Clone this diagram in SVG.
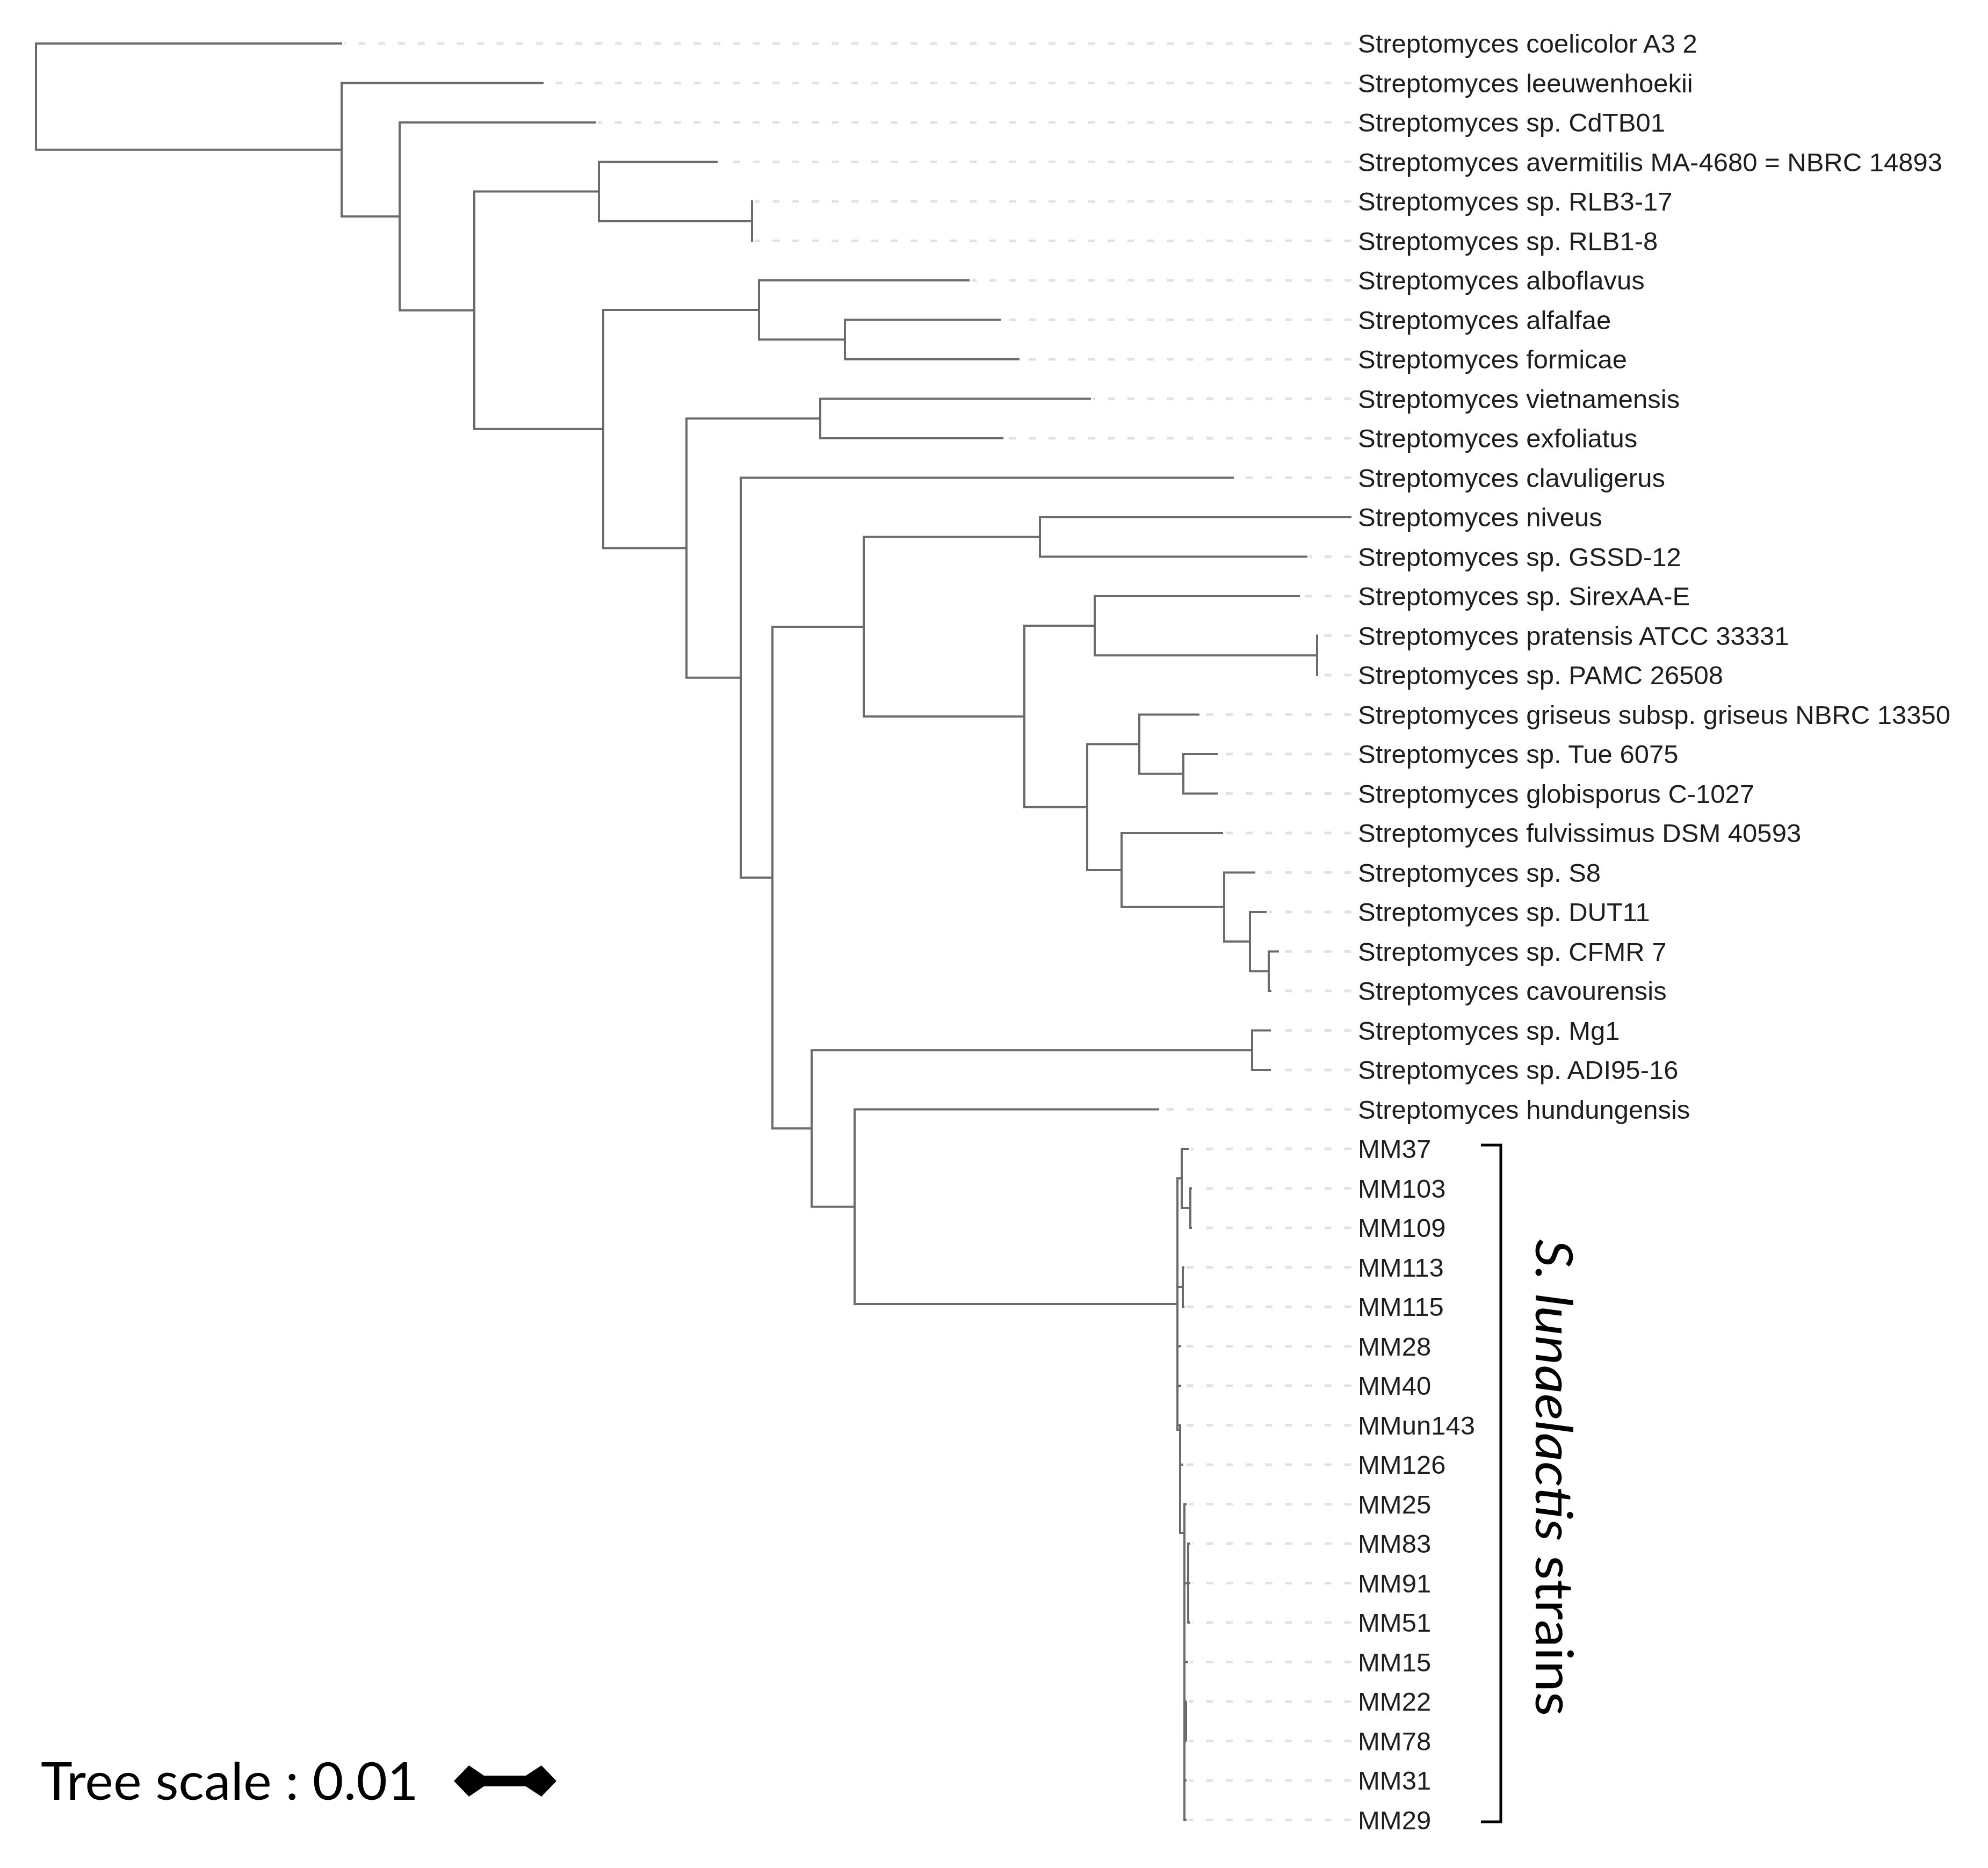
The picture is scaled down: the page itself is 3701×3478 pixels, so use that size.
<svg xmlns="http://www.w3.org/2000/svg" width="3701" height="3478" viewBox="0 0 3701 3478">
<style>
.br{fill:none;stroke:#6b6b6b;stroke-width:4;stroke-linejoin:miter}
.dot{fill:url(#dots)}
.lbl{font-family:"Liberation Sans",Arial,sans-serif;font-size:49px;fill:#1e1e1e}
.big{font-family:Lato,"Open Sans",sans-serif;font-size:96px;fill:#000}
</style>
<defs>
<pattern id="dots" patternUnits="userSpaceOnUse" x="1034.5" y="0" width="36.7" height="10">
<rect x="0" y="0" width="13" height="10" fill="#e2e2e2"/>
</pattern>
</defs>
<rect width="3701" height="3478" fill="#fff"/>
<g id="branches">
<path class="br" d="M637,81 H67 V278.7 H636"/>
<path class="br" d="M1012,154.5 H636 V402.9 H744"/>
<path class="br" d="M1109,228 H744 V577.7 H883"/>
<path class="br" d="M1115,356.6 H883 V798.8 H1123"/>
<path class="br" d="M1336,301.5 H1115 V411.75 H1400"/>
<path class="br" d="M1402,375 H1400 V448.5 H1402"/>
<path class="br" d="M1413,577.1 H1123 V1020.5 H1278"/>
<path class="br" d="M1805,522 H1413 V632.25 H1573"/>
<path class="br" d="M1864,595.5 H1573 V669 H1898"/>
<path class="br" d="M1527,779.25 H1278 V1261.7 H1379"/>
<path class="br" d="M2031,742.5 H1527 V816 H1868"/>
<path class="br" d="M2297,889.5 H1379 V1634 H1438"/>
<path class="br" d="M1608,1166.9 H1438 V2101 H1511"/>
<path class="br" d="M1936,999.75 H1608 V1334 H1907"/>
<path class="br" d="M2516,963 H1936 V1036.5 H2434"/>
<path class="br" d="M2038,1165.1 H1907 V1502.8 H2024"/>
<path class="br" d="M2420,1110 H2038 V1220.25 H2452"/>
<path class="br" d="M2454,1183.5 H2452 V1257 H2454"/>
<path class="br" d="M2121,1385.6 H2024 V1619.9 H2088"/>
<path class="br" d="M2233,1330.5 H2121 V1440.75 H2203"/>
<path class="br" d="M2267,1404 H2203 V1477.5 H2267"/>
<path class="br" d="M2277,1551 H2088 V1688.8 H2279"/>
<path class="br" d="M2337,1624.5 H2279 V1753.1 H2327"/>
<path class="br" d="M2358,1698 H2327 V1808.25 H2362"/>
<path class="br" d="M2381,1771.5 H2362 V1845 H2367"/>
<path class="br" d="M2331,1955.25 H1511 V2246.75 H1591"/>
<path class="br" d="M2366,1918.5 H2331 V1992 H2366"/>
<path class="br" d="M2158,2065.5 H1591 V2428 H2192"/>
<path class="br" d="M2200,2194 H2192 V2662 H2197"/>
<path class="br" d="M2213,2139 H2200 V2249 H2216"/>
<path class="br" d="M2219,2212.5 H2216 V2286 H2219"/>
<path class="br" d="M2192,2396 H2202"/>
<path class="br" d="M2205,2359.5 H2202 V2433 H2205"/>
<path class="br" d="M2192,2506.5 H2199 M2192,2580 H2199 M2192,2653.5 H2199"/>
<path class="br" d="M2197,2655 V2854 H2205 M2197,2727 H2203"/>
<path class="br" d="M2209,2800.5 H2205 V3388.5 H2209"/>
<path class="br" d="M2205,2948 H2212 M2216,2874 H2212 V3021 H2216 M2212,2947.5 H2216"/>
<path class="br" d="M2205,3094.5 H2212 M2205,3168 H2209 M2205,3241.5 H2209 M2205,3315 H2209 M2208,3168 V3241.5"/>
</g>
<g id="leaf-00"><rect class="dot" x="641" y="78.5" width="1876" height="5"/><text class="lbl" x="2528" y="98">Streptomyces coelicolor A3 2</text></g>
<g id="leaf-01"><rect class="dot" x="1016" y="152" width="1501" height="5"/><text class="lbl" x="2528" y="171.5">Streptomyces leeuwenhoekii</text></g>
<g id="leaf-02"><rect class="dot" x="1113" y="225.5" width="1404" height="5"/><text class="lbl" x="2528" y="245">Streptomyces sp. CdTB01</text></g>
<g id="leaf-03"><rect class="dot" x="1340" y="299" width="1177" height="5"/><text class="lbl" x="2528" y="318.5">Streptomyces avermitilis MA-4680 = NBRC 14893</text></g>
<g id="leaf-04"><rect class="dot" x="1406" y="372.5" width="1111" height="5"/><text class="lbl" x="2528" y="392">Streptomyces sp. RLB3-17</text></g>
<g id="leaf-05"><rect class="dot" x="1406" y="446" width="1111" height="5"/><text class="lbl" x="2528" y="465.5">Streptomyces sp. RLB1-8</text></g>
<g id="leaf-06"><rect class="dot" x="1809" y="519.5" width="708" height="5"/><text class="lbl" x="2528" y="539">Streptomyces alboflavus</text></g>
<g id="leaf-07"><rect class="dot" x="1868" y="593" width="649" height="5"/><text class="lbl" x="2528" y="612.5">Streptomyces alfalfae</text></g>
<g id="leaf-08"><rect class="dot" x="1902" y="666.5" width="615" height="5"/><text class="lbl" x="2528" y="686">Streptomyces formicae</text></g>
<g id="leaf-09"><rect class="dot" x="2035" y="740" width="482" height="5"/><text class="lbl" x="2528" y="759.5">Streptomyces vietnamensis</text></g>
<g id="leaf-10"><rect class="dot" x="1872" y="813.5" width="645" height="5"/><text class="lbl" x="2528" y="833">Streptomyces exfoliatus</text></g>
<g id="leaf-11"><rect class="dot" x="2301" y="887" width="216" height="5"/><text class="lbl" x="2528" y="906.5">Streptomyces clavuligerus</text></g>
<g id="leaf-12"><text class="lbl" x="2528" y="980">Streptomyces niveus</text></g>
<g id="leaf-13"><rect class="dot" x="2438" y="1034" width="79" height="5"/><text class="lbl" x="2528" y="1053.5">Streptomyces sp. GSSD-12</text></g>
<g id="leaf-14"><rect class="dot" x="2424" y="1107.5" width="93" height="5"/><text class="lbl" x="2528" y="1127">Streptomyces sp. SirexAA-E</text></g>
<g id="leaf-15"><rect class="dot" x="2458" y="1181" width="59" height="5"/><text class="lbl" x="2528" y="1200.5">Streptomyces pratensis ATCC 33331</text></g>
<g id="leaf-16"><rect class="dot" x="2458" y="1254.5" width="59" height="5"/><text class="lbl" x="2528" y="1274">Streptomyces sp. PAMC 26508</text></g>
<g id="leaf-17"><rect class="dot" x="2237" y="1328" width="280" height="5"/><text class="lbl" x="2528" y="1347.5">Streptomyces griseus subsp. griseus NBRC 13350</text></g>
<g id="leaf-18"><rect class="dot" x="2271" y="1401.5" width="246" height="5"/><text class="lbl" x="2528" y="1421">Streptomyces sp. Tue 6075</text></g>
<g id="leaf-19"><rect class="dot" x="2271" y="1475" width="246" height="5"/><text class="lbl" x="2528" y="1494.5">Streptomyces globisporus C-1027</text></g>
<g id="leaf-20"><rect class="dot" x="2281" y="1548.5" width="236" height="5"/><text class="lbl" x="2528" y="1568">Streptomyces fulvissimus DSM 40593</text></g>
<g id="leaf-21"><rect class="dot" x="2341" y="1622" width="176" height="5"/><text class="lbl" x="2528" y="1641.5">Streptomyces sp. S8</text></g>
<g id="leaf-22"><rect class="dot" x="2362" y="1695.5" width="155" height="5"/><text class="lbl" x="2528" y="1715">Streptomyces sp. DUT11</text></g>
<g id="leaf-23"><rect class="dot" x="2385" y="1769" width="132" height="5"/><text class="lbl" x="2528" y="1788.5">Streptomyces sp. CFMR 7</text></g>
<g id="leaf-24"><rect class="dot" x="2371" y="1842.5" width="146" height="5"/><text class="lbl" x="2528" y="1862">Streptomyces cavourensis</text></g>
<g id="leaf-25"><rect class="dot" x="2370" y="1916" width="147" height="5"/><text class="lbl" x="2528" y="1935.5">Streptomyces sp. Mg1</text></g>
<g id="leaf-26"><rect class="dot" x="2370" y="1989.5" width="147" height="5"/><text class="lbl" x="2528" y="2009">Streptomyces sp. ADI95-16</text></g>
<g id="leaf-27"><rect class="dot" x="2162" y="2063" width="355" height="5"/><text class="lbl" x="2528" y="2082.5">Streptomyces hundungensis</text></g>
<g id="leaf-28"><rect class="dot" x="2217" y="2136.5" width="300" height="5"/><text class="lbl" x="2528" y="2156">MM37</text></g>
<g id="leaf-29"><rect class="dot" x="2223" y="2210" width="294" height="5"/><text class="lbl" x="2528" y="2229.5">MM103</text></g>
<g id="leaf-30"><rect class="dot" x="2223" y="2283.5" width="294" height="5"/><text class="lbl" x="2528" y="2303">MM109</text></g>
<g id="leaf-31"><rect class="dot" x="2209" y="2357" width="308" height="5"/><text class="lbl" x="2528" y="2376.5">MM113</text></g>
<g id="leaf-32"><rect class="dot" x="2209" y="2430.5" width="308" height="5"/><text class="lbl" x="2528" y="2450">MM115</text></g>
<g id="leaf-33"><rect class="dot" x="2203" y="2504" width="314" height="5"/><text class="lbl" x="2528" y="2523.5">MM28</text></g>
<g id="leaf-34"><rect class="dot" x="2203" y="2577.5" width="314" height="5"/><text class="lbl" x="2528" y="2597">MM40</text></g>
<g id="leaf-35"><rect class="dot" x="2203" y="2651" width="314" height="5"/><text class="lbl" x="2528" y="2670.5">MMun143</text></g>
<g id="leaf-36"><rect class="dot" x="2207" y="2724.5" width="310" height="5"/><text class="lbl" x="2528" y="2744">MM126</text></g>
<g id="leaf-37"><rect class="dot" x="2213" y="2798" width="304" height="5"/><text class="lbl" x="2528" y="2817.5">MM25</text></g>
<g id="leaf-38"><rect class="dot" x="2220" y="2871.5" width="297" height="5"/><text class="lbl" x="2528" y="2891">MM83</text></g>
<g id="leaf-39"><rect class="dot" x="2220" y="2945" width="297" height="5"/><text class="lbl" x="2528" y="2964.5">MM91</text></g>
<g id="leaf-40"><rect class="dot" x="2220" y="3018.5" width="297" height="5"/><text class="lbl" x="2528" y="3038">MM51</text></g>
<g id="leaf-41"><rect class="dot" x="2216" y="3092" width="301" height="5"/><text class="lbl" x="2528" y="3111.5">MM15</text></g>
<g id="leaf-42"><rect class="dot" x="2213" y="3165.5" width="304" height="5"/><text class="lbl" x="2528" y="3185">MM22</text></g>
<g id="leaf-43"><rect class="dot" x="2213" y="3239" width="304" height="5"/><text class="lbl" x="2528" y="3258.5">MM78</text></g>
<g id="leaf-44"><rect class="dot" x="2213" y="3312.5" width="304" height="5"/><text class="lbl" x="2528" y="3332">MM31</text></g>
<g id="leaf-45"><rect class="dot" x="2213" y="3386" width="304" height="5"/><text class="lbl" x="2528" y="3405.5">MM29</text></g>
<g id="clade-bracket">
<path d="M2757,2132 H2794 V3392 H2757" fill="none" stroke="#000" stroke-width="5"/>
<text class="big" transform="translate(2859,2307) rotate(90)" x="0" y="0" textLength="888" lengthAdjust="spacingAndGlyphs"><tspan font-style="italic">S. lunaelactis</tspan> strains</text>
</g>
<g id="tree-scale">
<text class="big" x="76" y="3351" textLength="703" lengthAdjust="spacingAndGlyphs">Tree scale : 0.01</text>
<path d="M845,3316 L873,3287 L901,3306 H979 L1008,3287 L1036,3316 L1008,3345 L979,3326 H901 L873,3345 Z" fill="#000"/>
</g>
</svg>
